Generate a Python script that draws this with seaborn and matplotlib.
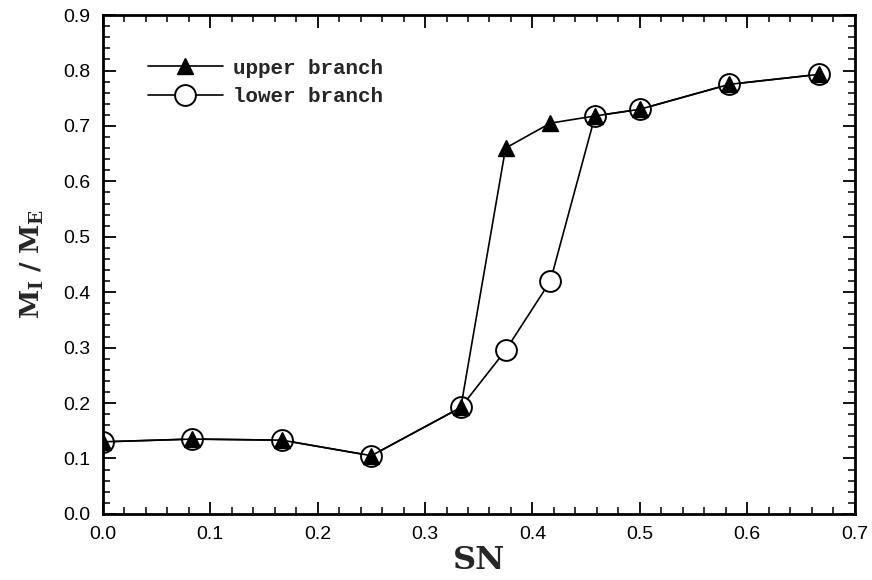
import matplotlib
matplotlib.use("Agg")
import matplotlib.pyplot as plt
import seaborn as sns
import pandas as pd
from matplotlib.ticker import MultipleLocator

sn = [0.0, 0.0833, 0.1667, 0.25, 0.3333, 0.375, 0.4167, 0.4583, 0.5, 0.5833, 0.6667]
upper = [0.130, 0.135, 0.133, 0.105, 0.192, 0.660, 0.705, 0.718, 0.730, 0.775, 0.793]
lower = [0.130, 0.135, 0.133, 0.105, 0.192, 0.295, 0.420, 0.718, 0.730, 0.775, 0.793]

sns.set_theme(style="ticks")
plt.rcParams["font.family"] = ["Liberation Sans", "DejaVu Sans"]
plt.rcParams["mathtext.fontset"] = "dejavuserif"

fig = plt.figure(figsize=(8.72, 5.8), dpi=100)
ax = fig.add_axes([0.118, 0.114, 0.862, 0.860])

df = pd.DataFrame({"SN": sn, "upper": upper, "lower": lower})

sns.lineplot(data=df, x="SN", y="lower", ax=ax, color="black", lw=1.2,
             marker="o", markersize=15, markerfacecolor="white",
             markeredgecolor="black", markeredgewidth=1.4,
             label="lower branch", sort=False, estimator=None, zorder=2)
sns.lineplot(data=df, x="SN", y="upper", ax=ax, color="black", lw=1.2,
             marker="^", markersize=12, markerfacecolor="black",
             markeredgecolor="black", markeredgewidth=1.0,
             label="upper branch", sort=False, estimator=None, zorder=3)

ax.set_xlim(0, 0.7)
ax.set_ylim(0, 0.9)
ax.xaxis.set_major_locator(MultipleLocator(0.1))
ax.xaxis.set_minor_locator(MultipleLocator(0.02))
ax.yaxis.set_major_locator(MultipleLocator(0.1))
ax.yaxis.set_minor_locator(MultipleLocator(0.02))
ax.tick_params(which="both", direction="in", top=True, right=True,
               labelsize=14, color="black", labelcolor="black")
ax.tick_params(which="major", length=9, width=1.3)
ax.tick_params(which="minor", length=5, width=1.1)
ax.tick_params(axis="x", which="major", pad=9)
ax.tick_params(axis="y", which="major", pad=9)
ax.set_xticklabels([f"{v:.1f}" for v in ax.get_xticks()])
ax.set_yticklabels([f"{v:.1f}" for v in ax.get_yticks()])
for s in ax.spines.values():
    s.set_linewidth(2.0)
    s.set_color("black")

ax.set_xlabel("SN", fontsize=23, fontweight="bold", family="DejaVu Serif", labelpad=1)
ax.set_ylabel(r"$\mathbf{M_I\ /\ M_E}$", fontsize=19, labelpad=12)

handles, labels = ax.get_legend_handles_labels()
leg = ax.legend(handles[::-1], labels[::-1], loc="upper left",
                bbox_to_anchor=(0.035, 0.95), frameon=False, handlelength=3.6,
                prop={"family": "Liberation Mono", "weight": "bold", "size": 15},
                labelspacing=0.45, handletextpad=0.5)

fig.savefig("out.png", dpi=100)
